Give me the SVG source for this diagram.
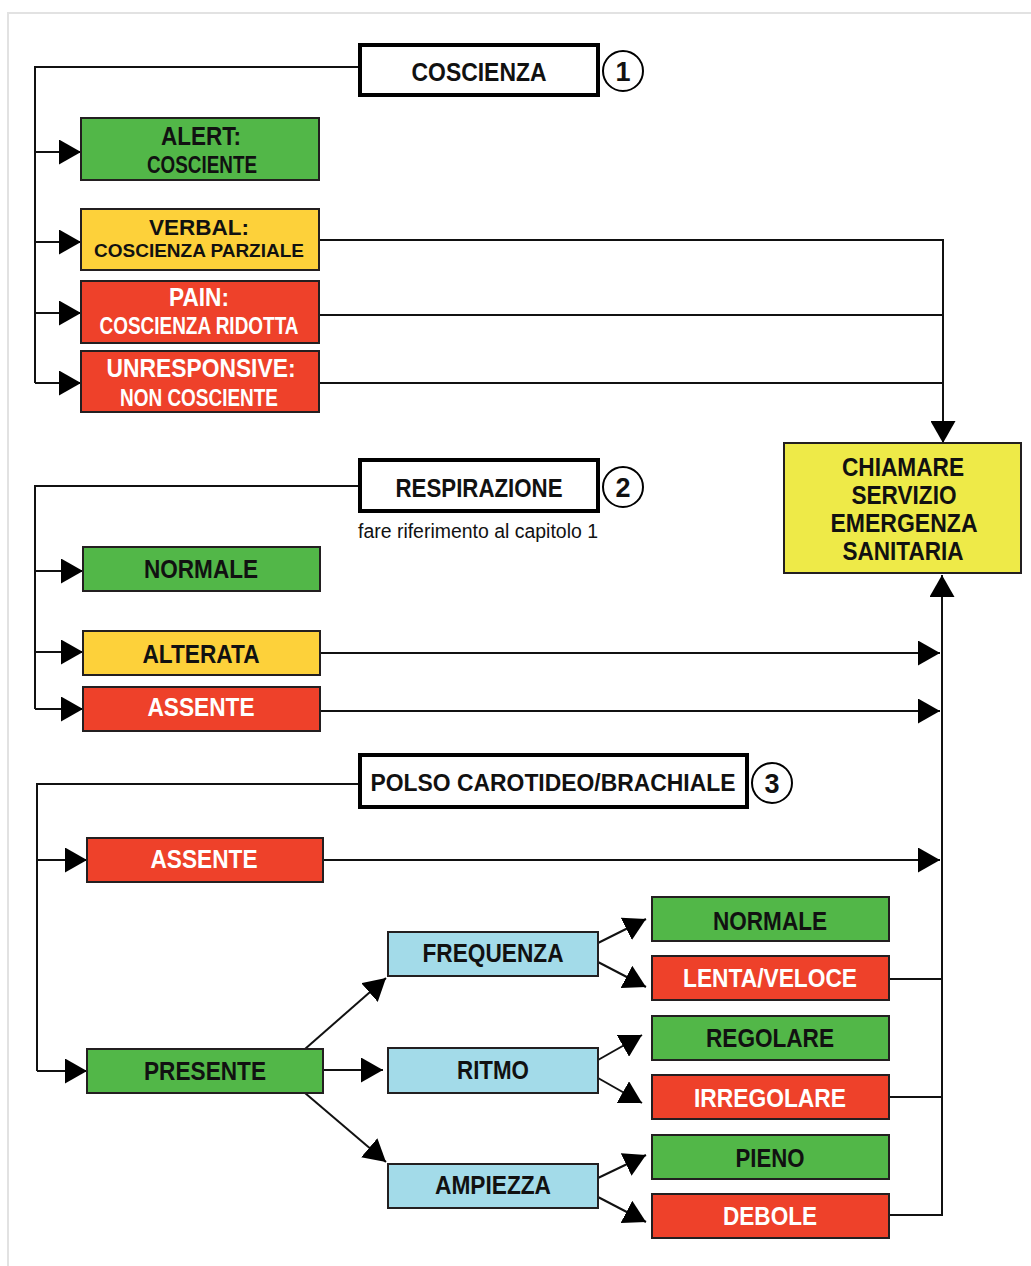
<svg xmlns="http://www.w3.org/2000/svg" width="1031" height="1266" viewBox="0 0 1031 1266">
  <style>
    .t { font-family: "Liberation Sans", Arial, sans-serif; font-weight: bold; text-anchor: middle; }
    .dark { fill: #111; }
    .light { fill: #fff; }
    .box { stroke: #231f20; stroke-width: 2; }
    .green { fill: #52b748; }
    .yellow { fill: #fdd13a; }
    .red { fill: #ee412a; }
    .blue { fill: #a3dbe9; }
    .call { fill: #eeea48; }
    .head { fill: #fff; stroke: #000; stroke-width: 4; }
    .num { fill: #fff; stroke: #000; stroke-width: 2; }
    .ln { fill: none; stroke: #111; stroke-width: 2; }
    .arr { marker-end: url(#ah); }
  </style>
  <defs>
    <marker id="ah" markerUnits="userSpaceOnUse" markerWidth="22" markerHeight="25" refX="22" refY="12.5" orient="auto">
      <path d="M0,0 L22,12.5 L0,25 Z" fill="#000"/>
    </marker>
  </defs>

  <!-- page frame -->
  <rect x="8" y="13" width="1040" height="1270" fill="none" stroke="#e2e2e2" stroke-width="2"/>

  <!-- connectors -->
  <g id="connectors">
    <!-- coscienza -->
    <polyline class="ln" points="360,67 35,67 35,383"/>
    <line class="ln arr" x1="35" y1="152" x2="81" y2="152"/>
    <line class="ln arr" x1="35" y1="242" x2="81" y2="242"/>
    <line class="ln arr" x1="35" y1="313" x2="81" y2="313"/>
    <line class="ln arr" x1="35" y1="383" x2="81" y2="383"/>
    <line class="ln" x1="319" y1="240" x2="943" y2="240"/>
    <line class="ln" x1="319" y1="315" x2="943" y2="315"/>
    <line class="ln" x1="319" y1="383" x2="943" y2="383"/>
    <line class="ln arr" x1="943" y1="239" x2="943" y2="443"/>
    <!-- respirazione -->
    <polyline class="ln" points="360,486 35,486 35,709"/>
    <line class="ln arr" x1="35" y1="571" x2="83" y2="571"/>
    <line class="ln arr" x1="35" y1="652" x2="83" y2="652"/>
    <line class="ln arr" x1="35" y1="709" x2="83" y2="709"/>
    <line class="ln arr" x1="320" y1="653" x2="940" y2="653"/>
    <line class="ln arr" x1="320" y1="711" x2="940" y2="711"/>
    <!-- polso -->
    <polyline class="ln" points="359,784 37,784 37,1071"/>
    <line class="ln arr" x1="37" y1="860" x2="87" y2="860"/>
    <line class="ln arr" x1="37" y1="1071" x2="87" y2="1071"/>
    <line class="ln arr" x1="323" y1="860" x2="940" y2="860"/>
    <line class="ln arr" x1="305" y1="1049" x2="386" y2="978"/>
    <line class="ln arr" x1="323" y1="1070" x2="383" y2="1070"/>
    <line class="ln arr" x1="305" y1="1093" x2="386" y2="1162"/>
    <line class="ln arr" x1="598" y1="943" x2="646" y2="919"/>
    <line class="ln arr" x1="598" y1="962" x2="646" y2="987"/>
    <line class="ln arr" x1="598" y1="1060" x2="642" y2="1035"/>
    <line class="ln arr" x1="598" y1="1078" x2="642" y2="1103"/>
    <line class="ln arr" x1="598" y1="1178" x2="646" y2="1155"/>
    <line class="ln arr" x1="598" y1="1197" x2="646" y2="1222"/>
    <polyline class="ln" points="889,979 942,979"/>
    <polyline class="ln" points="889,1097 942,1097"/>
    <polyline class="ln arr" points="889,1215 942,1215 942,575"/>
  </g>

  <!-- section 1 -->
  <g id="coscienza">
    <rect class="head" x="360" y="45" width="238" height="50"/>
    <text class="t dark" x="479" y="81" font-size="26" textLength="135" lengthAdjust="spacingAndGlyphs">COSCIENZA</text>
  </g>
  <g id="num1">
    <circle class="num" cx="623" cy="71" r="20"/>
    <text class="t dark" x="623" y="81" font-size="27">1</text>
  </g>
  <g id="alert">
    <rect class="box green" x="81" y="118" width="238" height="62"/>
    <text class="t dark" x="201" y="145" font-size="26" textLength="80" lengthAdjust="spacingAndGlyphs">ALERT:</text>
    <text class="t dark" x="202" y="173" font-size="23" textLength="110" lengthAdjust="spacingAndGlyphs">COSCIENTE</text>
  </g>
  <g id="verbal">
    <rect class="box yellow" x="81" y="209" width="238" height="61"/>
    <text class="t dark" x="199" y="235" font-size="22" textLength="100" lengthAdjust="spacingAndGlyphs">VERBAL:</text>
    <text class="t dark" x="199" y="257" font-size="18" textLength="210" lengthAdjust="spacingAndGlyphs">COSCIENZA PARZIALE</text>
  </g>
  <g id="pain">
    <rect class="box red" x="81" y="281" width="238" height="62"/>
    <text class="t light" x="199" y="306" font-size="26" textLength="60" lengthAdjust="spacingAndGlyphs">PAIN:</text>
    <text class="t light" x="199" y="334" font-size="23" textLength="199" lengthAdjust="spacingAndGlyphs">COSCIENZA RIDOTTA</text>
  </g>
  <g id="unresponsive">
    <rect class="box red" x="81" y="351" width="238" height="61"/>
    <text class="t light" x="201" y="377" font-size="26" textLength="189" lengthAdjust="spacingAndGlyphs">UNRESPONSIVE:</text>
    <text class="t light" x="199" y="406" font-size="23" textLength="158" lengthAdjust="spacingAndGlyphs">NON COSCIENTE</text>
  </g>

  <!-- emergency call -->
  <g id="chiamare">
    <rect class="box call" x="784" y="443" width="237" height="130"/>
    <text class="t dark" x="903" y="476" font-size="26" textLength="122" lengthAdjust="spacingAndGlyphs">CHIAMARE</text>
    <text class="t dark" x="904" y="504" font-size="26" textLength="105" lengthAdjust="spacingAndGlyphs">SERVIZIO</text>
    <text class="t dark" x="904" y="532" font-size="26" textLength="147" lengthAdjust="spacingAndGlyphs">EMERGENZA</text>
    <text class="t dark" x="903" y="560" font-size="26" textLength="121" lengthAdjust="spacingAndGlyphs">SANITARIA</text>
  </g>

  <!-- section 2 -->
  <g id="respirazione">
    <rect class="head" x="360" y="460" width="238" height="51"/>
    <text class="t dark" x="479" y="497" font-size="26" textLength="167" lengthAdjust="spacingAndGlyphs">RESPIRAZIONE</text>
    <text x="358" y="538" font-family="Liberation Sans, Arial, sans-serif" font-size="20" fill="#111" textLength="240" lengthAdjust="spacingAndGlyphs">fare riferimento al capitolo 1</text>
  </g>
  <g id="num2">
    <circle class="num" cx="623" cy="487" r="20"/>
    <text class="t dark" x="623" y="497" font-size="27">2</text>
  </g>
  <g id="resp-normale">
    <rect class="box green" x="83" y="547" width="237" height="44"/>
    <text class="t dark" x="201" y="578" font-size="26" textLength="114" lengthAdjust="spacingAndGlyphs">NORMALE</text>
  </g>
  <g id="resp-alterata">
    <rect class="box yellow" x="83" y="631" width="237" height="44"/>
    <text class="t dark" x="201" y="663" font-size="26" textLength="117" lengthAdjust="spacingAndGlyphs">ALTERATA</text>
  </g>
  <g id="resp-assente">
    <rect class="box red" x="83" y="687" width="237" height="44"/>
    <text class="t light" x="201" y="716" font-size="26" textLength="107" lengthAdjust="spacingAndGlyphs">ASSENTE</text>
  </g>

  <!-- section 3 -->
  <g id="polso">
    <rect class="head" x="360" y="755" width="387" height="52"/>
    <text class="t dark" x="553" y="791" font-size="23" textLength="365" lengthAdjust="spacingAndGlyphs">POLSO CAROTIDEO/BRACHIALE</text>
  </g>
  <g id="num3">
    <circle class="num" cx="772" cy="783" r="20"/>
    <text class="t dark" x="772" y="793" font-size="27">3</text>
  </g>
  <g id="polso-assente">
    <rect class="box red" x="87" y="838" width="236" height="44"/>
    <text class="t light" x="204" y="868" font-size="26" textLength="107" lengthAdjust="spacingAndGlyphs">ASSENTE</text>
  </g>
  <g id="presente">
    <rect class="box green" x="87" y="1049" width="236" height="44"/>
    <text class="t dark" x="205" y="1080" font-size="26" textLength="122" lengthAdjust="spacingAndGlyphs">PRESENTE</text>
  </g>
  <g id="frequenza">
    <rect class="box blue" x="388" y="932" width="210" height="44"/>
    <text class="t dark" x="493" y="962" font-size="26" textLength="141" lengthAdjust="spacingAndGlyphs">FREQUENZA</text>
  </g>
  <g id="ritmo">
    <rect class="box blue" x="388" y="1048" width="210" height="45"/>
    <text class="t dark" x="493" y="1079" font-size="26" textLength="72" lengthAdjust="spacingAndGlyphs">RITMO</text>
  </g>
  <g id="ampiezza">
    <rect class="box blue" x="388" y="1164" width="210" height="44"/>
    <text class="t dark" x="493" y="1194" font-size="26" textLength="116" lengthAdjust="spacingAndGlyphs">AMPIEZZA</text>
  </g>
  <g id="freq-normale">
    <rect class="box green" x="652" y="897" width="237" height="44"/>
    <text class="t dark" x="770" y="930" font-size="26" textLength="114" lengthAdjust="spacingAndGlyphs">NORMALE</text>
  </g>
  <g id="lenta-veloce">
    <rect class="box red" x="652" y="956" width="237" height="44"/>
    <text class="t light" x="770" y="987" font-size="26" textLength="174" lengthAdjust="spacingAndGlyphs">LENTA/VELOCE</text>
  </g>
  <g id="regolare">
    <rect class="box green" x="652" y="1016" width="237" height="44"/>
    <text class="t dark" x="770" y="1047" font-size="26" textLength="128" lengthAdjust="spacingAndGlyphs">REGOLARE</text>
  </g>
  <g id="irregolare">
    <rect class="box red" x="652" y="1075" width="237" height="44"/>
    <text class="t light" x="770" y="1107" font-size="26" textLength="152" lengthAdjust="spacingAndGlyphs">IRREGOLARE</text>
  </g>
  <g id="pieno">
    <rect class="box green" x="652" y="1135" width="237" height="44"/>
    <text class="t dark" x="770" y="1167" font-size="26" textLength="69" lengthAdjust="spacingAndGlyphs">PIENO</text>
  </g>
  <g id="debole">
    <rect class="box red" x="652" y="1194" width="237" height="44"/>
    <text class="t light" x="770" y="1225" font-size="26" textLength="94" lengthAdjust="spacingAndGlyphs">DEBOLE</text>
  </g>
</svg>
